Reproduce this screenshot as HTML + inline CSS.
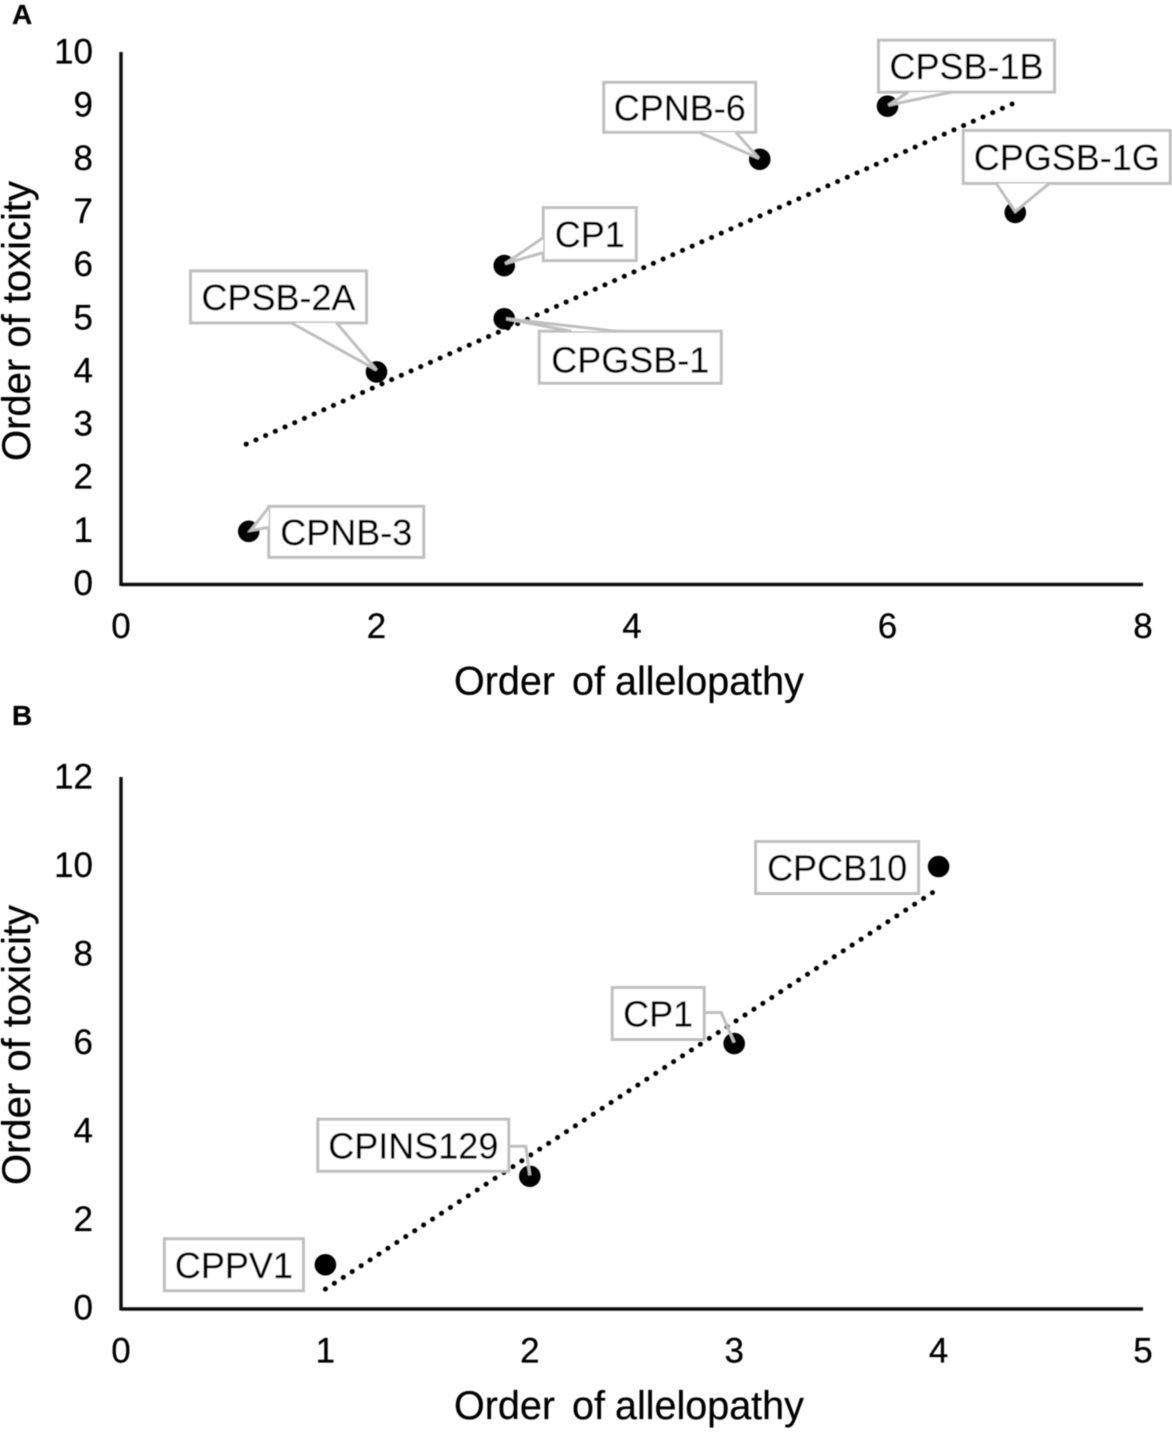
<!DOCTYPE html>
<html lang="en">
<head>
<meta charset="utf-8">
<title>Order of toxicity vs order of allelopathy</title>
<style>
html,body{margin:0;padding:0;background:#fff;width:1172px;height:1433px;overflow:hidden}
svg{display:block}
text{font-family:"Liberation Sans",sans-serif;fill:#000;stroke:#000;stroke-width:0.25px}
</style>
</head>
<body>
<svg id="figure" xmlns="http://www.w3.org/2000/svg" width="1172" height="1433" viewBox="0 0 1172 1433">
<defs><filter id="soft" x="-5%" y="-5%" width="110%" height="110%"><feGaussianBlur stdDeviation="0.5"/></filter></defs>
<g id="root" filter="url(#soft)"></g>
</svg>
<script>
// Panel A data
const aNames = ["CPNB-3","CPSB-2A","CPGSB-1","CP1","CPNB-6","CPSB-1B","CPGSB-1G"];
const aAllelopathy = [1,2,3,3,5,6,7];
const aToxicity = [1,4,5,6,8,9,7];
const aTrendX = [0.98,6.975];
const aTrendY = [2.64,9.04];
const aXTicks = [0,2,4,6,8];
const aYTicks = [0,1,2,3,4,5,6,7,8,9,10];

// Panel B data
const bNames = ["CPPV1","CPINS129","CP1","CPCB10"];
const bAllelopathy = [1,2,3,4];
const bToxicity = [1,3,6,10];
const bTrendX = [1,3.97];
const bTrendY = [0.45,9.41];
const bXTicks = [0,1,2,3,4,5];
const bYTicks = [0,2,4,6,8,10,12];

const NS = "http://www.w3.org/2000/svg";
const root = document.getElementById("root");

function make(tag, attrs, parent, txt){
  const el = document.createElementNS(NS, tag);
  for (const k in attrs) el.setAttribute(k, attrs[k]);
  if (txt !== undefined) el.textContent = txt;
  parent.appendChild(el);
  return el;
}

// Callout geometry, relative to each point: box offset/size and tail outline
const calloutsA = {
  "CPNB-3":  {box:[20,-25,155,51], tail:[[20,-24],[20,-4],[2,-1]]},
  "CPSB-2A": {box:[-186,-101,176,52], tail:[[-85,-49],[-40,-49],[0,-2]]},
  "CPGSB-1": {box:[35,12.5,182,52], dy:15, tail:[[67,12.5],[112,12.5],[2,0]]},
  "CP1":     {box:[39,-58,93,53], tail:[[39,-28],[39,-13],[1,-2]]},
  "CPNB-6":  {box:[-156,-77,152,50], tail:[[-61,-27],[-24,-27],[-1,-1]]},
  "CPSB-1B": {box:[-9,-66,176,52], tail:[[21,-14],[64,-14],[1,-1]]},
  "CPGSB-1G":{box:[-52,-82,207,53], tail:[[-19,-29],[34,-29],[0,-1]]}
};
const calloutsB = {
  "CPPV1":   {box:[-161,-26,139,52]},
  "CPINS129":{box:[-212,-57,191,52], line:[[-21,-30],[-4,-30],[0,-1]]},
  "CP1":     {box:[-122,-56,92,52], line:[[-30,-31],[-13,-31],[0,-1]]},
  "CPCB10":  {box:[-183,-25,163,52]}
};

function drawPanel(p){
  const g = make("g", {}, root);
  
  
  const sx = v => p.x0 + (v - p.xMin) * (p.x1 - p.x0) / (p.xMax - p.xMin);
  const sy = v => p.y0 + (v - p.yMin) * (p.y1 - p.y0) / (p.yMax - p.yMin);

  const letter = make("text", {x:12, y:p.letterY, "font-size":28, "font-weight":"bold"}, g, p.letter);
  
  

  const yAxis = make("line", {x1:p.x0, y1:p.y0+1.5, x2:p.x0, y2:p.y1-1, stroke:"#111", "stroke-width":3.4}, g);
  
  
  const xAxis = make("line", {x1:p.x0, y1:p.y0, x2:p.x1, y2:p.y0, stroke:"#111", "stroke-width":3.4}, g);
  
  

  p.xTicks.forEach(v => {
    const t = make("text", {x:sx(v), y:p.y0+53.5, "font-size":35, "text-anchor":"middle"}, g, String(v));
    
    
  });
  p.yTicks.forEach(v => {
    const t = make("text", {x:93, y:sy(v)+10.5, "font-size":35, "text-anchor":"end"}, g, String(v));
    
    
  });

  const xTitle = make("text", {y:p.y0+110, "font-size":39.5}, g);
  
  
  make("tspan", {x:454}, xTitle, "Order");
  make("tspan", {x:572}, xTitle, "of");
  make("tspan", {x:615}, xTitle, "allelopathy");

  const yTitle = make("text", {x:0, y:0, transform:"translate(30 "+p.yTitleCenter+") rotate(-90)", "font-size":40, "text-anchor":"middle"}, g, "Order of toxicity");
  
  

  const tx1 = sx(p.trendX[0]), ty1 = sy(p.trendY[0]), tx2 = sx(p.trendX[1]), ty2 = sy(p.trendY[1]);
  const trendLen = Math.hypot(tx2 - tx1, ty2 - ty1);
  const trendStep = trendLen / Math.round(trendLen / 10.6);
  const trend = make("line", {x1:tx1, y1:ty1, x2:tx2, y2:ty2, stroke:"#000", "stroke-width":5, "stroke-linecap":"round", "stroke-dasharray":"0.1 " + (trendStep - 0.1)}, g);
  
  

  p.names.forEach((name, i) => {
    const cx = sx(p.xs[i]), cy = sy(p.ys[i]);
    const dot = make("circle", {cx:cx, cy:cy, r:10.8, fill:"#000"}, g);
    
    
  });

  p.names.forEach((name, i) => {
    const cx = sx(p.xs[i]), cy = sy(p.ys[i]);
    const c = p.callouts[name];
    const b = c.box;
    const bx = cx + b[0], by = cy + b[1];
    const rect = make("rect", {x:bx, y:by, width:b[2], height:b[3], fill:"#fff", stroke:"#bfbfbf", "stroke-width":3}, g);
    
    
    if (c.tail) {
      const pts = c.tail.map(q => (cx+q[0])+","+(cy+q[1])).join(" ");
      const tail = make("polygon", {points:pts, fill:"#fff", stroke:"none"}, g);
      
      
      const edge = c.tail;
      const tailLine = make("polyline", {points:[edge[0],edge[2],edge[1]].map(q => (cx+q[0])+","+(cy+q[1])).join(" "), fill:"none", stroke:"#bfbfbf", "stroke-width":3}, g);
      
      
    }
    if (c.line) {
      const leader = make("polyline", {points:c.line.map(q => (cx+q[0])+","+(cy+q[1])).join(" "), fill:"none", stroke:"#bfbfbf", "stroke-width":3}, g);
      
      
    }
    const label = make("text", {x:bx+b[2]/2, y:by+b[3]/2+(c.dy||13), "font-size":36, "text-anchor":"middle"}, g, name);
    
    
  });
}

drawPanel({id:"panel-a", letter:"A", letterY:24,
  x0:121, x1:1143, xMin:0, xMax:8, y0:584.5, y1:53, yMin:0, yMax:10,
  yTitleCenter:321,
  names:aNames, xs:aAllelopathy, ys:aToxicity, trendX:aTrendX, trendY:aTrendY,
  xTicks:aXTicks, yTicks:aYTicks, callouts:calloutsA});

drawPanel({id:"panel-b", letter:"B", letterY:725,
  x0:121, x1:1143, xMin:0, xMax:5, y0:1309, y1:778, yMin:0, yMax:12,
  yTitleCenter:1045,
  names:bNames, xs:bAllelopathy, ys:bToxicity, trendX:bTrendX, trendY:bTrendY,
  xTicks:bXTicks, yTicks:bYTicks, callouts:calloutsB});
</script>
</body>
</html>
